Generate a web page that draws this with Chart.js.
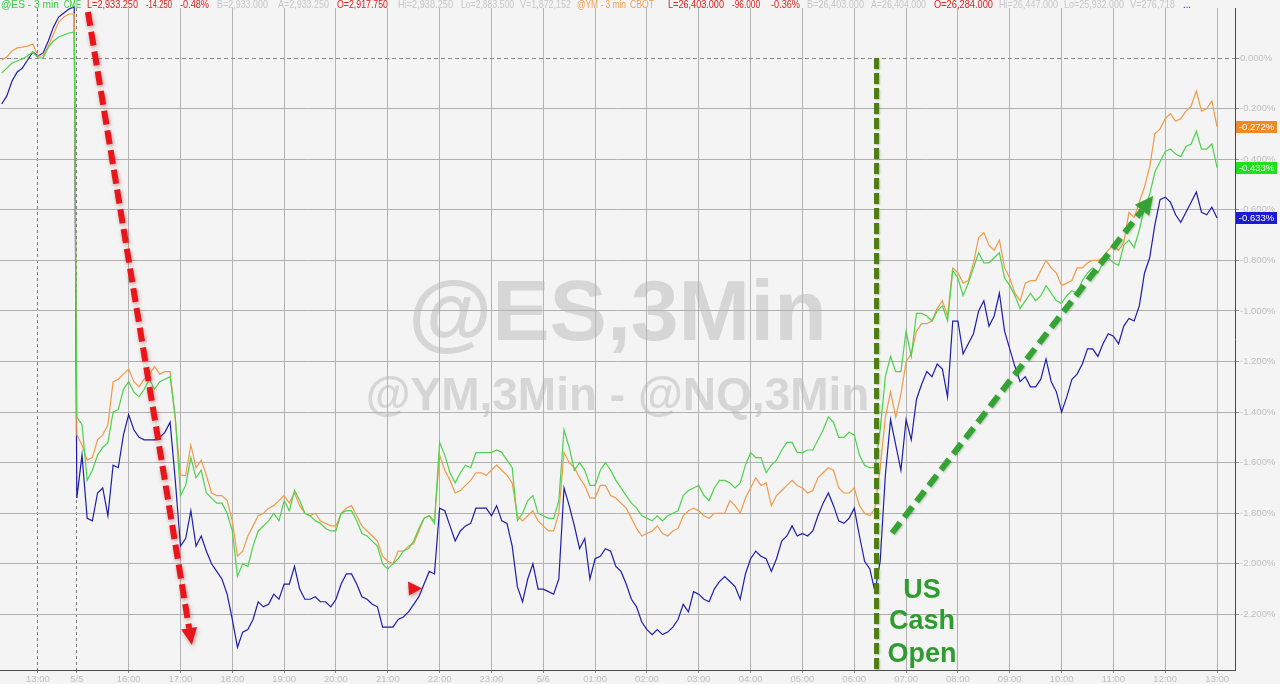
<!DOCTYPE html>
<html>
<head>
<meta charset="utf-8">
<script src="https://cdn.jsdelivr.net/npm/chart.js@4.4.1/dist/chart.umd.min.js"></script>
<style>
  html, body { margin: 0; padding: 0; background: #f4f4f4; }
  #wrap { width: 1280px; height: 684px; position: relative; }
  canvas { display: block; }
</style>
</head>
<body>
<div id="wrap"><canvas id="c" width="1280" height="684" style="width:1280px;height:684px"></canvas></div>
<script>
// x unit: 3-minute bar index counted from the Sunday 5/5 15:00 session open (Friday bars are negative)
const friBars = [-29,-27,-25,-23,-21,-19,-17,-15,-13,-11,-9,-7,-5,-3,-1];
const sessionBars = Array.from({length: 221}, (_, i) => i * 2); // sampled every 2 bars (6 min)

// % change, @ES (green)
const esFri = [-0.06,-0.04,-0.02,-0.012,-0.004,0.008,0.024,0.0,0.0,0.043,0.067,0.083,0.091,0.099,0.103];
const esSes = [
 -1.42,-1.45,-1.67,-1.63,-1.57,-1.54,-1.52,-1.40,-1.39,-1.31,-1.28,-1.32,-1.34,-1.31,-1.27,-1.31,-1.28,-1.27,-1.26,-1.42,
 -1.73,-1.69,-1.58,-1.66,-1.63,-1.72,-1.74,-1.76,-1.76,-1.80,-1.87,-2.05,-2.00,-2.01,-1.93,-1.87,-1.85,-1.83,-1.80,-1.83,
 -1.75,-1.79,-1.71,-1.75,-1.80,-1.81,-1.83,-1.84,-1.86,-1.87,-1.87,-1.80,-1.79,-1.79,-1.83,-1.88,-1.89,-1.91,-1.93,-2.00,
 -2.02,-2.00,-1.98,-1.95,-1.94,-1.91,-1.86,-1.82,-1.81,-1.84,-1.52,-1.57,-1.64,-1.68,-1.64,-1.61,-1.62,-1.56,-1.56,-1.56,
 -1.56,-1.55,-1.56,-1.59,-1.62,-1.83,-1.80,-1.75,-1.73,-1.80,-1.81,-1.82,-1.82,-1.75,-1.47,-1.54,-1.63,-1.60,-1.63,-1.69,
 -1.69,-1.63,-1.60,-1.63,-1.67,-1.70,-1.73,-1.76,-1.78,-1.81,-1.82,-1.83,-1.81,-1.83,-1.81,-1.80,-1.79,-1.73,-1.71,-1.70,
 -1.69,-1.73,-1.75,-1.70,-1.67,-1.67,-1.68,-1.70,-1.68,-1.61,-1.56,-1.58,-1.58,-1.64,-1.61,-1.59,-1.55,-1.52,-1.52,-1.56,
 -1.56,-1.55,-1.55,-1.51,-1.47,-1.42,-1.44,-1.50,-1.50,-1.48,-1.49,-1.57,-1.61,-1.62,-1.62,-1.47,-1.26,-1.18,-1.24,-1.24,
 -1.08,-1.18,-1.01,-1.01,-1.02,-1.04,-1.00,-0.98,-1.04,-0.84,-0.87,-0.94,-0.89,-0.83,-0.77,-0.81,-0.81,-0.79,-0.77,-0.87,
 -0.90,-0.94,-0.99,-0.96,-0.93,-0.96,-0.94,-0.90,-0.93,-0.96,-0.97,-0.94,-0.92,-0.93,-0.88,-0.85,-0.83,-0.85,-0.81,-0.79,
 -0.81,-0.82,-0.74,-0.72,-0.75,-0.68,-0.59,-0.54,-0.45,-0.41,-0.37,-0.36,-0.38,-0.39,-0.35,-0.34,-0.29,-0.36,-0.36,-0.34,
 -0.433];

// % change, @YM (orange)
const ymFri = [-0.008,0.004,0.028,0.040,0.043,0.047,0.055,0.008,0.008,0.047,0.095,0.142,0.162,0.174,0.174];
const ymSes = [
 -1.49,-1.53,-1.59,-1.58,-1.51,-1.49,-1.45,-1.28,-1.27,-1.25,-1.23,-1.28,-1.30,-1.27,-1.25,-1.22,-1.25,-1.24,-1.24,-1.43,
 -1.65,-1.65,-1.53,-1.62,-1.59,-1.65,-1.72,-1.73,-1.73,-1.75,-1.83,-1.97,-1.95,-1.89,-1.85,-1.81,-1.80,-1.78,-1.77,-1.75,
 -1.73,-1.76,-1.72,-1.77,-1.80,-1.81,-1.80,-1.83,-1.84,-1.85,-1.85,-1.80,-1.78,-1.77,-1.81,-1.85,-1.87,-1.89,-1.91,-1.97,
 -1.99,-2.00,-1.95,-1.95,-1.93,-1.92,-1.87,-1.82,-1.81,-1.83,-1.57,-1.63,-1.67,-1.72,-1.71,-1.69,-1.67,-1.64,-1.64,-1.65,
 -1.63,-1.61,-1.63,-1.65,-1.68,-1.81,-1.83,-1.81,-1.79,-1.83,-1.85,-1.87,-1.87,-1.80,-1.56,-1.60,-1.62,-1.66,-1.69,-1.74,
 -1.74,-1.69,-1.69,-1.73,-1.74,-1.76,-1.78,-1.82,-1.86,-1.89,-1.88,-1.87,-1.85,-1.88,-1.89,-1.87,-1.86,-1.81,-1.79,-1.78,
 -1.79,-1.81,-1.82,-1.80,-1.80,-1.80,-1.75,-1.77,-1.80,-1.74,-1.70,-1.66,-1.69,-1.68,-1.77,-1.73,-1.71,-1.69,-1.67,-1.69,
 -1.70,-1.72,-1.71,-1.66,-1.64,-1.62,-1.63,-1.70,-1.72,-1.72,-1.70,-1.77,-1.80,-1.81,-1.78,-1.62,-1.42,-1.32,-1.42,-1.33,
 -1.20,-1.17,-1.08,-1.05,-1.05,-1.04,-0.99,-0.96,-1.02,-0.83,-0.85,-0.89,-0.88,-0.81,-0.71,-0.69,-0.74,-0.76,-0.72,-0.83,
 -0.87,-0.93,-0.96,-0.89,-0.88,-0.88,-0.84,-0.80,-0.83,-0.85,-0.90,-0.89,-0.88,-0.83,-0.83,-0.81,-0.80,-0.80,-0.79,-0.76,
 -0.74,-0.76,-0.73,-0.61,-0.63,-0.57,-0.51,-0.43,-0.30,-0.28,-0.24,-0.22,-0.25,-0.24,-0.21,-0.19,-0.13,-0.21,-0.20,-0.17,
 -0.272];

// % change, @NQ (blue)
const nqFri = [-0.182,-0.150,-0.091,-0.055,-0.040,-0.008,0.024,0.008,0.020,0.067,0.123,0.162,0.178,0.194,0.202];
const nqSes = [
 -1.74,-1.57,-1.82,-1.83,-1.72,-1.70,-1.81,-1.61,-1.62,-1.49,-1.41,-1.47,-1.50,-1.51,-1.51,-1.51,-1.50,-1.48,-1.44,-1.67,
 -1.93,-1.90,-1.79,-1.93,-1.89,-1.95,-2.00,-2.03,-2.06,-2.12,-2.22,-2.33,-2.27,-2.26,-2.22,-2.15,-2.17,-2.16,-2.12,-2.14,
 -2.08,-2.08,-2.01,-2.10,-2.14,-2.14,-2.13,-2.15,-2.15,-2.17,-2.14,-2.08,-2.04,-2.04,-2.08,-2.13,-2.14,-2.16,-2.17,-2.25,
 -2.25,-2.25,-2.22,-2.21,-2.19,-2.16,-2.13,-2.08,-2.03,-2.04,-1.78,-1.79,-1.85,-1.91,-1.87,-1.85,-1.84,-1.78,-1.78,-1.78,
 -1.81,-1.77,-1.83,-1.84,-1.93,-2.09,-2.15,-2.06,-2.00,-2.10,-2.10,-2.11,-2.12,-2.06,-1.70,-1.77,-1.85,-1.94,-1.90,-2.06,
 -1.98,-1.97,-1.94,-1.95,-2.01,-2.03,-2.08,-2.14,-2.17,-2.23,-2.26,-2.28,-2.26,-2.28,-2.27,-2.25,-2.22,-2.16,-2.19,-2.11,
 -2.12,-2.14,-2.15,-2.10,-2.07,-2.05,-2.07,-2.09,-2.14,-2.04,-1.98,-1.95,-1.97,-1.98,-2.03,-1.98,-1.91,-1.89,-1.85,-1.89,
 -1.88,-1.89,-1.87,-1.81,-1.76,-1.72,-1.77,-1.83,-1.84,-1.82,-1.78,-1.89,-1.99,-2.02,-2.11,-1.99,-1.65,-1.43,-1.53,-1.63,
 -1.43,-1.51,-1.35,-1.29,-1.24,-1.26,-1.21,-1.23,-1.34,-1.04,-1.04,-1.17,-1.13,-1.09,-1.00,-0.96,-1.06,-1.02,-0.93,-1.08,
 -1.15,-1.22,-1.28,-1.26,-1.30,-1.30,-1.27,-1.19,-1.28,-1.32,-1.40,-1.34,-1.27,-1.25,-1.21,-1.15,-1.15,-1.18,-1.13,-1.09,
 -1.10,-1.13,-1.06,-1.03,-1.04,-0.98,-0.85,-0.79,-0.66,-0.56,-0.55,-0.57,-0.62,-0.65,-0.61,-0.57,-0.53,-0.61,-0.62,-0.59,
 -0.633];

// axis ticks
const xTickBars = [-15,0,20,40,60,80,100,120,140,160,180,200,220,240,260,280,300,320,340,360,380,400,420,440];
const xTickLabels = ['13:00','5/5','16:00','17:00','18:00','19:00','20:00','21:00','22:00','23:00','5/6',
  '01:00','02:00','03:00','04:00','05:00','06:00','07:00','08:00','09:00','10:00','11:00','12:00','13:00'];
const yTickValues = [0,-0.2,-0.4,-0.6,-0.8,-1.0,-1.2,-1.4,-1.6,-1.8,-2.0,-2.2];
const dashedXTicks = [-15, 0];

// annotations, in axis units [bar, %]
const redArrow = {from: [4.3, 0.182], to: [44.4, -2.321]};
const redMarkerTip = [133.2, -2.098];
const cashOpenBar = 308.6;
const greenArrow = {from: [314.6, -1.878], to: [415.3, -0.546]};
const cashOpenText = {bar: 326.1, lines: [['US', -2.104], ['Cash', -2.230], ['Open', -2.357]]};

const FONT = "'Liberation Sans', Arial, Helvetica, sans-serif";
const COLORS = {es: '#4bd34b', ym: '#f29a48', nq: '#1d1dad'};

const allBars = friBars.concat(sessionBars);
const toPts = (fri, ses) => fri.concat(ses).map((v, i) => ({x: allBars[i], y: v}));

const bgPlugin = {
  id: 'bgWatermark',
  beforeDraw(chart) {
    const {ctx, chartArea: a} = chart;
    ctx.save();
    ctx.fillStyle = '#f4f4f4';
    ctx.fillRect(0, 0, chart.width, chart.height);
    ctx.fillStyle = '#d6d6d6';
    ctx.textAlign = 'center';
    ctx.textBaseline = 'alphabetic';
    const cx = (a.left + a.right) / 2;
    ctx.font = 'bold 86px ' + FONT;
    ctx.fillText('@ES,3Min', cx, a.top + 332);
    ctx.font = 'bold 46px ' + FONT;
    ctx.fillText('@YM,3Min - @NQ,3Min', cx, a.top + 402);
    ctx.restore();
  }
};

function dashedArrow(ctx, x1, y1, x2, y2, color, width, dash, headLen, headW) {
  const ang = Math.atan2(y2 - y1, x2 - x1);
  const bx = x2 - headLen * Math.cos(ang), by = y2 - headLen * Math.sin(ang);
  ctx.strokeStyle = color; ctx.fillStyle = color; ctx.lineWidth = width;
  ctx.setLineDash(dash); ctx.lineCap = 'butt';
  ctx.beginPath(); ctx.moveTo(x1, y1); ctx.lineTo(bx, by); ctx.stroke();
  ctx.setLineDash([]);
  ctx.beginPath(); ctx.moveTo(x2, y2);
  ctx.lineTo(bx + headW * Math.sin(ang), by - headW * Math.cos(ang));
  ctx.lineTo(bx - headW * Math.sin(ang), by + headW * Math.cos(ang));
  ctx.closePath(); ctx.fill();
}

const annoPlugin = {
  id: 'annotations',
  afterDatasetsDraw(chart) {
    const {ctx, scales: {x, y}, chartArea: a} = chart;
    const X = b => x.getPixelForValue(b), Y = v => y.getPixelForValue(v);
    ctx.save();
    // red dashed arrow
    ctx.shadowColor = 'rgba(120,0,0,0.35)'; ctx.shadowBlur = 4; ctx.shadowOffsetX = 1; ctx.shadowOffsetY = 2;
    dashedArrow(ctx, X(redArrow.from[0]), Y(redArrow.from[1]), X(redArrow.to[0]), Y(redArrow.to[1]),
      '#e8161b', 6, [14, 6], 17, 8);
    // small red marker
    const tx = X(redMarkerTip[0]), ty = Y(redMarkerTip[1]);
    ctx.fillStyle = '#e8161b';
    ctx.beginPath(); ctx.moveTo(tx, ty); ctx.lineTo(tx - 14, ty - 7); ctx.lineTo(tx - 13, ty + 7); ctx.closePath(); ctx.fill();
    // green vertical (cash open)
    ctx.shadowColor = 'rgba(0,60,0,0.25)'; ctx.shadowBlur = 2; ctx.shadowOffsetX = 1; ctx.shadowOffsetY = 1;
    ctx.strokeStyle = '#4e7d12'; ctx.lineWidth = 5; ctx.setLineDash([11, 4]);
    ctx.beginPath(); ctx.moveTo(X(cashOpenBar), Y(0)); ctx.lineTo(X(cashOpenBar), a.bottom); ctx.stroke();
    ctx.setLineDash([]);
    // green dashed arrow
    dashedArrow(ctx, X(greenArrow.from[0]), Y(greenArrow.from[1]), X(greenArrow.to[0]), Y(greenArrow.to[1]),
      '#34a334', 6, [13, 7], 18, 9);
    ctx.shadowColor = 'transparent';
    // text
    ctx.fillStyle = '#2f9c2f';
    ctx.font = 'bold 27px ' + FONT;
    ctx.textAlign = 'center'; ctx.textBaseline = 'middle';
    cashOpenText.lines.forEach(([t, v]) => ctx.fillText(t, X(cashOpenText.bar), Y(v)));
    ctx.restore();
  },
  afterDraw(chart) {
    const {ctx, scales: {y}, chartArea: a} = chart;
    ctx.save();
    // header (text, colour, left x, width)
    ctx.font = '10.5px ' + FONT; ctx.textAlign = 'left'; ctx.textBaseline = 'alphabetic';
    const G = '#3cc93c', R = '#dd2020', L = '#c6c6c6', O = '#f0a050', B = '#2424a8';
    const header = [
      ['@ES - 3 min', G, 1, 58], ['CME', G, 64, 17], ['L=2,933.250', R, 87, 51], ['-14.250', R, 146, 26],
      ['-0.48%', R, 180, 29], ['B=2,933.000', L, 217, 51], ['A=2,933.250', L, 278, 51], ['O=2,917.750', R, 337, 51],
      ['Hi=2,938.250', L, 398, 55], ['Lo=2,883.500', L, 461, 53], ['V=1,872,152', L, 520, 51],
      ['@YM - 3 min', O, 577, 49], ['CBOT', O, 630, 24],
      ['L=26,403.000', R, 668, 56], ['-96.000', R, 732, 28], ['-0.36%', R, 771, 29], ['B=26,403.000', L, 807, 57],
      ['A=26,404.000', L, 871, 55], ['O=26,284.000', R, 934, 59], ['Hi=26,447.000', L, 999, 59],
      ['Lo=25,932.000', L, 1064, 60], ['V=276,718', L, 1130, 45], ['...', B, 1183, 8]
    ];
    header.forEach(([t, c, xx, w]) => { ctx.fillStyle = c; ctx.fillText(t, xx, 8, w); });
    // last value boxes
    const boxes = [[ymSes, '#f08a24'], [esSes, '#1ee01e'], [nqSes, '#1a1ad0']];
    ctx.font = '9.5px ' + FONT; ctx.textAlign = 'center'; ctx.textBaseline = 'middle';
    boxes.forEach(([arr, col]) => {
      const v = arr[arr.length - 1];
      const yy = y.getPixelForValue(v);
      ctx.fillStyle = col;
      ctx.fillRect(a.right + 1, Math.round(yy - 6), 41, 12);
      ctx.fillStyle = '#ffffff';
      ctx.fillText(v.toFixed(3) + '%', a.right + 21.5, yy + 0.5);
    });
    ctx.restore();
  }
};

const isDashX = ctx => ctx.type === 'tick' && ctx.tick && dashedXTicks.includes(ctx.tick.value);
const isZeroY = ctx => ctx.type === 'tick' && ctx.tick && ctx.tick.value === 0;

new Chart(document.getElementById('c'), {
  type: 'line',
  data: {
    datasets: [
      {label: '@ES', data: toPts(esFri, esSes), borderColor: COLORS.es, borderWidth: 1.2, pointRadius: 0, order: 0, clip: false},
      {label: '@YM', data: toPts(ymFri, ymSes), borderColor: COLORS.ym, borderWidth: 1.2, pointRadius: 0, order: 1, clip: false},
      {label: '@NQ', data: toPts(nqFri, nqSes), borderColor: COLORS.nq, borderWidth: 1.2, pointRadius: 0, order: 2, clip: false}
    ]
  },
  options: {
    responsive: false,
    animation: false,
    devicePixelRatio: 1,
    layout: {padding: {top: 8, left: 0, right: 0, bottom: 0}},
    elements: {line: {tension: 0}},
    plugins: {legend: {display: false}, tooltip: {enabled: false}},
    scales: {
      x: {
        type: 'linear', min: -29.64, max: 446.92,
        afterBuildTicks: s => { s.ticks = xTickBars.map(v => ({value: v})); },
        afterFit: s => { s.height = 14; },
        ticks: {
          autoSkip: false, maxRotation: 0, padding: 1, color: '#bdbdbd',
          font: {family: FONT, size: 9.5},
          callback: v => xTickLabels[xTickBars.indexOf(v)]
        },
        grid: {
          color: ctx => isDashX(ctx) ? '#7c7c7c' : '#b3b3b3',
          lineWidth: 1, tickLength: 3, tickColor: '#8a8a8a'
        },
        border: {display: true, color: '#4a4a4a', width: 1, dash: ctx => isDashX(ctx) ? [3, 3] : []}
      },
      y: {
        type: 'linear', position: 'right', min: -2.4198, max: 0.1977,
        afterBuildTicks: s => { s.ticks = yTickValues.map(v => ({value: v})); },
        afterFit: s => { s.width = 45; },
        ticks: {
          padding: 1, color: '#bdbdbd', font: {family: FONT, size: 9.5},
          callback: v => v.toFixed(3) + '%'
        },
        grid: {
          color: ctx => isZeroY(ctx) ? '#8c8c8c' : '#b0b0b0',
          lineWidth: 1, tickLength: 4, tickColor: '#8a8a8a'
        },
        border: {display: true, color: '#4a4a4a', width: 1, dash: ctx => isZeroY(ctx) ? [4, 3] : []}
      }
    }
  },
  plugins: [bgPlugin, annoPlugin]
});
</script>
</body>
</html>
